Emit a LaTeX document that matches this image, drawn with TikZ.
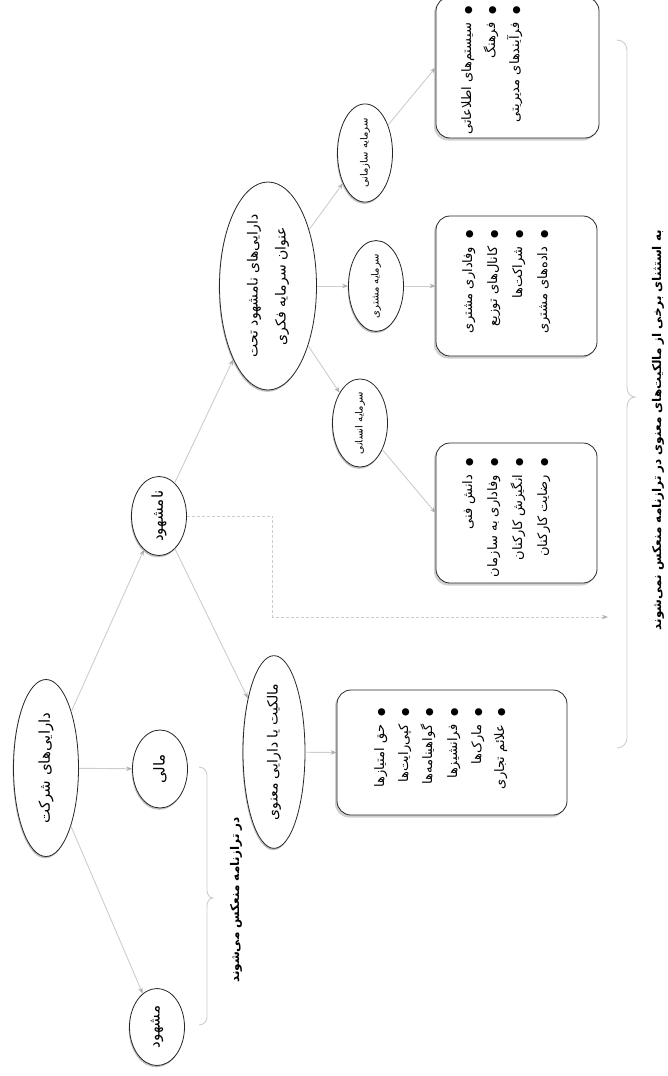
\documentclass[tikz,border=0pt]{standalone}
\usepackage{fontspec}
\newfontfamily\fa[Script=Arabic]{DejaVu Sans}
\TeXXeTstate=1
\usetikzlibrary{shapes.geometric,arrows.meta,shadows}
\newcommand\faR[1]{\beginR #1\endR}
\newcommand\bul{{\fontsize{9.5}{9.5}\selectfont ●}\ \ }
\definecolor{linegray}{RGB}{205,205,205}
\definecolor{tipgray}{RGB}{175,175,175}
\tikzset{
 ell/.style={ellipse, draw=black!85, line width=0.8pt, fill=white, inner sep=0pt, rotate=90,
   drop shadow={shadow xshift=-0.8pt, shadow yshift=-1.8pt, opacity=0.35, fill=black!70}},
 boxnode/.style={rectangle, rounded corners=14pt, draw=black!85, line width=0.8pt, fill=white, inner sep=0pt, rotate=90,
   drop shadow={shadow xshift=-2pt, shadow yshift=-2.5pt, opacity=0.3, fill=black!60}},
 conn/.style={draw=linegray, line width=0.9pt, -{Stealth[length=6pt,width=4.5pt,color=tipgray]}},
 dconn/.style={conn, dash pattern=on 3pt off 2pt},
 item/.style={rotate=90, anchor=mid east, inner sep=0pt, font=\fa\fontsize{13}{16}\selectfont},
 bracestyle/.style={draw=linegray, line width=0.9pt},
 note/.style={rotate=90, inner sep=0pt, font=\fa\bfseries\fontsize{12}{14}\selectfont},
 big/.style={font=\fa\fontsize{15}{18}\selectfont},
 small/.style={font=\fa\fontsize{10}{12}\selectfont},
}
\begin{document}
\begin{tikzpicture}[x=1pt,y=1pt]
\fill[white] (0,0) rectangle (668,-1076);
\useasboundingbox (0,0) rectangle (668,-1076);

% ellipses
\node[ell, big, minimum width=177pt, minimum height=65pt] (root) at (46,-768) {\faR{دارایی‌های شرکت}};
\node[ell, big, minimum width=78pt, minimum height=55pt] (mali) at (160,-769) {\faR{مالی}};
\node[ell, big, minimum width=77pt, minimum height=55pt] (mashhud) at (157,-1027) {\faR{مشهود}};
\node[ell, big, minimum width=79pt, minimum height=55pt] (namashhud) at (159,-516) {\faR{نامشهود}};
\node[ell, font=\fa\fontsize{14}{17}\selectfont, minimum width=165pt, minimum height=62pt] (malkiyat) at (274,-752) {\faR{مالکیت یا دارایی معنوی}};
\node[ell, font=\fa\fontsize{14}{28}\selectfont, align=center, minimum width=208pt, minimum height=97pt] (ic) at (268,-286) {\faR{دارایی‌های نامشهود تحت}\\\faR{عنوان سرمایه فکری}};
\node[ell, small, minimum width=79pt, minimum height=55pt] (sazmani) at (365,-153) {\faR{سرمایه سازمانی}};
\node[ell, small, minimum width=79pt, minimum height=55pt] (moshtari) at (376,-286) {\faR{سرمایه مشتری}};
\node[ell, small, minimum width=79pt, minimum height=55pt] (ensani) at (360,-423) {\faR{سرمایه انسانی}};

% boxes
\node[boxnode, minimum width=141pt, minimum height=163pt] (boxA) at (517.5,-67.5) {};
\node[boxnode, minimum width=140pt, minimum height=161pt] (boxB) at (516.5,-286) {};
\node[boxnode, minimum width=140pt, minimum height=161pt] (boxC) at (516.5,-513) {};
\node[boxnode, minimum width=125pt, minimum height=230pt] (boxD) at (452,-752.5) {};

% items
\node[item] (a1) at (469,-6) {\faR{\bul سیستم‌های اطلاعاتی}};
\node[item] (a2) at (493,-6) {\faR{\bul فرهنگ}};
\node[item] (a3) at (517,-6) {\faR{\bul فرآیندهای مدیریتی}};

\node[item] (b1) at (470,-230) {\faR{\bul وفاداری مشتری}};
\node[item] (b2) at (495,-230) {\faR{\bul کانال‌های توزیع}};
\node[item] (b3) at (520,-230) {\faR{\bul شراکت‌ها}};
\node[item] (b4) at (545,-230) {\faR{\bul داده‌های مشتری}};

\node[item] (c1) at (470,-458) {\faR{\bul دانش فنی}};
\node[item] (c2) at (495,-458) {\faR{\bul وفاداری به سازمان}};
\node[item] (c3) at (520,-458) {\faR{\bul انگیزش کارکنان}};
\node[item] (c4) at (545,-458) {\faR{\bul رضایت کارکنان}};

\node[item] (d1) at (382,-708) {\faR{\bul حق امتیازها}};
\node[item] (d2) at (406,-708) {\faR{\bul کپی‌رایت‌ها}};
\node[item] (d3) at (430,-708) {\faR{\bul گواهینامه‌ها}};
\node[item] (d4) at (455,-708) {\faR{\bul فرانشیزها}};
\node[item] (d5) at (479,-708) {\faR{\bul مارک‌ها}};
\node[item] (d6) at (502,-708) {\faR{\bul علائم تجاری}};

% connectors
\draw[conn] (root) -- (namashhud);
\draw[conn] (root) -- (mali);
\draw[conn] (root) -- (mashhud);
\draw[conn] (namashhud) -- (ic);
\draw[conn] (namashhud) -- (malkiyat);
\draw[conn] (ic) -- (sazmani);
\draw[conn] (ic) -- (moshtari);
\draw[conn] (ic) -- (ensani);
\draw[conn] (sazmani) -- (boxA.north);
\draw[conn] (moshtari) -- (boxB.north);
\draw[conn] (ensani) -- (boxC.north);
\draw[conn] (malkiyat) -- (boxD.north);
\coordinate (dashend) at (608,-617);
\draw[dconn] (namashhud.south) -- ++(86,0) |- (dashend);

% braces
\draw[bracestyle] (199,-767) to[out=0,in=90] (207,-775) -- (207,-890) to[out=-90,in=180] (213,-898)
  to[out=180,in=90] (207,-906) -- (207,-1017) to[out=-90,in=0] (199,-1025);
\draw[bracestyle] (617,-40) to[out=0,in=90] (627,-50) -- (627,-387) to[out=-90,in=180] (635,-397)
  to[out=180,in=90] (627,-407) -- (627,-738) to[out=-90,in=0] (617,-748);

\node[note] (lownote) at (236,-900) {\faR{در ترازنامه منعکس می‌شوند}};
\node[note] (upnote) at (658,-430) {\faR{به استثنای برخی از مالکیت‌های معنوی در ترازنامه منعکس نمی‌شوند}};
\end{tikzpicture}
\end{document}
